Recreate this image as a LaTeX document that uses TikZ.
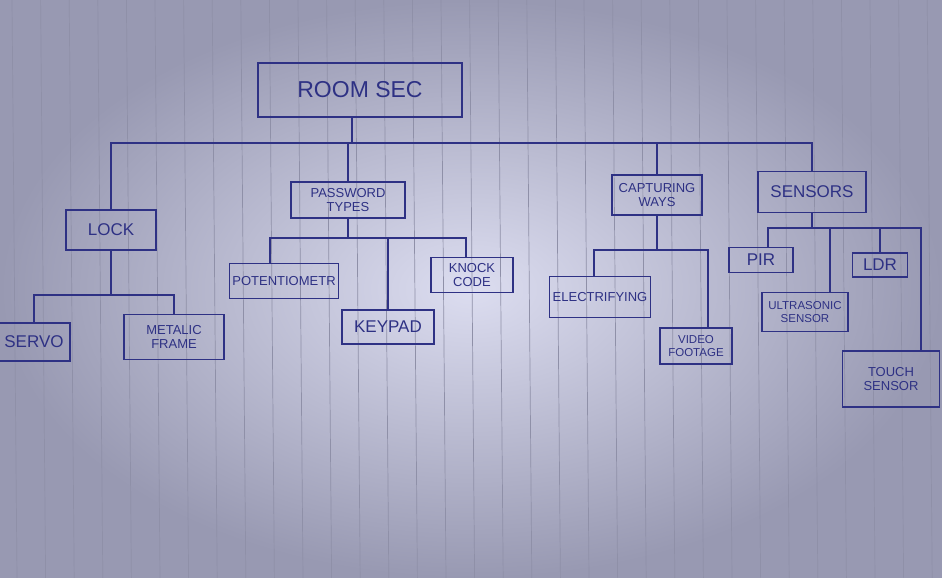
\documentclass[tikz,border=0pt]{standalone}
\usepackage{fontspec}
\setmainfont{Liberation Sans}
\usetikzlibrary{positioning, calc}
\definecolor{cink}{HTML}{2E3184}
\definecolor{cpaperlight}{HTML}{DCDDF0}
\definecolor{cpaperdark}{HTML}{9899B2}
\definecolor{crule}{HTML}{8F90A8}
\tikzset{
  every picture/.style={line width=1.6pt},
  box/.style={draw=cink, line width=1.6pt, text=cink, align=center, inner sep=3pt, font=\fontsize{13}{14}\selectfont},
  bigbox/.style={box, font=\fontsize{23}{25}\selectfont},
  midbox/.style={box, font=\fontsize{17}{19}\selectfont},
  link/.style={draw=cink, line width=1.6pt},
  ruling/.style={draw=crule, line width=0.7pt},
}

\begin{document}
\begin{tikzpicture}[x=1pt, y=-1pt]
  \useasboundingbox (0,0) rectangle (942,578);

  % paper
  \shade[inner color=cpaperlight, outer color=cpaperdark] (0,0) rectangle (942,578);
  \foreach \x in {12,40.6,...,940} \draw[ruling] (\x,0) -- (\x+5,578);

  % root
  \node[bigbox, minimum width=204pt, minimum height=54pt] (room) at (360,90) {ROOM SEC};
  \coordinate (bus) at (0,143);
  \draw[link] ([xshift=-8pt]room.south) -- ([xshift=-8pt]room.south |- bus);

  % lock
  \node[midbox, minimum width=90pt, minimum height=40pt] (lock) at (111,230) {LOCK};
  \node[midbox, minimum width=72pt, minimum height=38pt] (servo) at (34,342) {SERVO};
  \node[box, minimum width=100pt, minimum height=45pt] (frame) at (174,337) {METALIC\\FRAME};
  \coordinate (lockbus) at (0,295);
  \draw[link] (lock.south) -- (lock.south |- lockbus);
  \draw[link] (servo.north) -- (servo.north |- lockbus) -| (frame.north);

  % password types
  \node[box, minimum width=114pt, minimum height=36pt] (pass) at (348,200) {PASSWORD\\TYPES};
  \node[box, minimum width=88pt, minimum height=35pt] (pot) at (284,281) {POTENTIOMETR};
  \node[midbox, minimum width=92pt, minimum height=34pt] (keypad) at (388,327) {KEYPAD};
  \node[box, minimum width=82pt, minimum height=35pt] (knock) at (472,275) {KNOCK\\CODE};
  \coordinate (passbus) at (0,238);
  \draw[link] (pass.south) -- (pass.south |- passbus);
  \draw[link] ([xshift=-14pt]pot.north) -- ([xshift=-14pt]pot.north |- passbus) -| ([xshift=-6pt]knock.north);
  \draw[link] (keypad.north) -- (keypad.north |- passbus);

  % capturing ways
  \node[box, minimum width=90pt, minimum height=40pt] (capture) at (657,195) {CAPTURING\\WAYS};
  \node[box, minimum width=76pt, minimum height=41pt] (electric) at (600,297) {ELECTRIFYING};
  \node[box, minimum width=72pt, minimum height=36pt, font=\fontsize{11.5}{12.5}\selectfont] (video) at (696,346) {VIDEO\\FOOTAGE};
  \coordinate (capbus) at (0,250);
  \draw[link] (capture.south) -- (capture.south |- capbus);
  \draw[link] ([xshift=-6pt]electric.north) -- ([xshift=-6pt]electric.north |- capbus) -| ([xshift=12pt]video.north);

  % sensors
  \node[midbox, minimum width=108pt, minimum height=41pt] (sensors) at (812,192) {SENSORS};
  \node[midbox, minimum width=64pt, minimum height=25pt] (pir) at (761,260) {PIR};
  \node[midbox, minimum width=55pt, minimum height=24pt] (ldr) at (880,265) {LDR};
  \node[box, minimum width=86pt, minimum height=39pt, font=\fontsize{11.5}{12.5}\selectfont] (ultra) at (805,312) {ULTRASONIC\\SENSOR};
  \node[box, minimum width=97pt, minimum height=56pt] (touch) at (891,379) {TOUCH\\SENSOR};
  \coordinate (senbus) at (0,228);
  \draw[link] (sensors.south) -- (sensors.south |- senbus);
  \draw[link] ([xshift=7pt]pir.north) -- ([xshift=7pt]pir.north |- senbus) -| ([xshift=30pt]touch.north);
  \draw[link] ([xshift=25pt]ultra.north) -- ([xshift=25pt]ultra.north |- senbus);
  \draw[link] (ldr.north) -- (ldr.north |- senbus);

  % top level
  \draw[link] (lock.north) -- (lock.north |- bus) -| (sensors.north);
  \draw[link] (pass.north) -- (pass.north |- bus);
  \draw[link] (capture.north) -- (capture.north |- bus);
\end{tikzpicture}
\end{document}
